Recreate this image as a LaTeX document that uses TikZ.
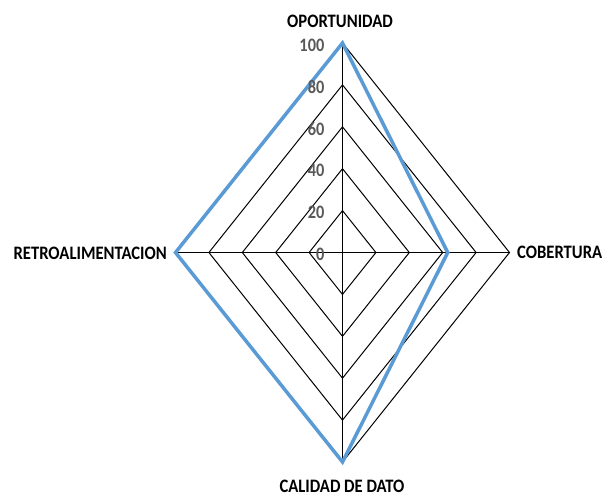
\documentclass[tikz,border=0pt]{standalone}
\usepackage{fontspec}
\setmainfont{Carlito}
\definecolor{serieblue}{HTML}{5B9BD5}
\definecolor{ticklab}{HTML}{595959}
\begin{document}
\begin{tikzpicture}[x=1pt,y=-1pt,
  grid/.style={black,line width=1pt,line join=miter},
  serie/.style={serieblue,line width=3.5pt,line join=miter},
  axlab/.style={font=\fontsize{19}{20}\selectfont\bfseries,xscale=0.875,inner sep=0pt},
  ticklabel/.style={font=\fontsize{19}{20}\selectfont\bfseries,text=ticklab,xscale=0.86,inner sep=0pt,anchor=east}]
\useasboundingbox (0,0) rectangle (605,496);
\def\cx{342.5}\def\cy{252.5}\def\rx{167}\def\ry{209.5}
\coordinate (C) at (\cx,\cy);
\foreach \k in {1,...,5}{
  \draw[grid] (\cx,\cy-\k*\ry/5) -- (\cx+\k*\rx/5,\cy) -- (\cx,\cy+\k*\ry/5) -- (\cx-\k*\rx/5,\cy) -- cycle;
}
\coordinate (T) at (\cx,\cy-\ry);
\coordinate (R) at (\cx+\rx,\cy);
\coordinate (B) at (\cx,\cy+\ry);
\coordinate (L) at (\cx-\rx,\cy);
\draw[grid] (T) -- (B);
\draw[grid] (L) -- (R);
\coordinate (dT) at (\cx,\cy-\ry);
\coordinate (dR) at (\cx+0.63*\rx,\cy);
\coordinate (dB) at (\cx,\cy+\ry);
\coordinate (dL) at (\cx-\rx,\cy);
\draw[serie] (dT) -- (dR) -- (dB) -- (dL) -- cycle;
\foreach \v [count=\i from 0] in {0,20,40,60,80,100}{
  \node[ticklabel] (t\i) at (324.5,\cy-\i*\ry/5+2) {\v};
}
\node[axlab] (lopo) at (340,21) {OPORTUNIDAD};
\node[axlab,anchor=west] (lcob) at (517,252.5) {COBERTURA};
\node[axlab,anchor=east] (lret) at (167,253) {RETROALIMENTACION};
\node[axlab] (lcal) at (342,486) {CALIDAD DE DATO};
\end{tikzpicture}
\end{document}
